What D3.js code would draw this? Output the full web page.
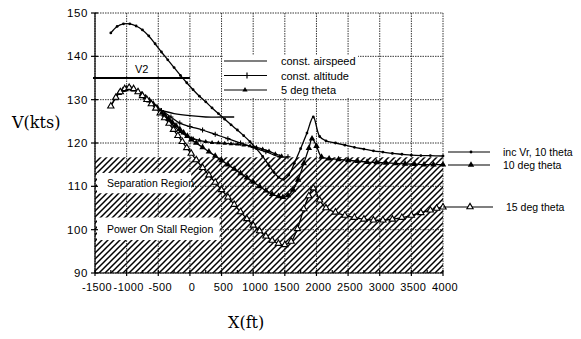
<!DOCTYPE html>
<html>
<head>
<meta charset="utf-8">
<script src="https://cdn.jsdelivr.net/npm/d3@7"></script>
<style>
  body { margin: 0; background: #fff; }
  text { font-family: 'Liberation Sans', Arial, sans-serif; fill: #000; }
</style>
</head>
<body>
<svg id="chart" width="581" height="339"></svg>
<script>
// axis ticks
const xTicks = [-1500, -1000, -500, 0, 500, 1000, 1500, 2000, 2500, 3000, 3500, 4000]
const yTicks = [90, 100, 110, 120, 130, 140, 150]

// inc Vr, 10 theta (small dots)
const incVrX = [-1250, -1150, -1050, -950, -850, -750, -650, -550, -450, -350, -250, -150, -50, 50, 150, 250, 350, 450, 550, 650, 750, 850, 950, 1050, 1150, 1250, 1330, 1400, 1480, 1560, 1650, 1750, 1850, 1950, 2050, 2150, 2300, 2450, 2600, 2750, 2900, 3050, 3200, 3350, 3500, 3650, 3800, 4000]
const incVrV = [145.4, 146.9, 147.5, 147.5, 147, 146.1, 144.7, 142.9, 141, 139.2, 137.4, 135.6, 133.9, 132.3, 130.8, 129.5, 128.1, 126.8, 125.5, 124.2, 123, 121.7, 120.3, 118.7, 116.9, 114.8, 113.2, 112.1, 111.6, 112.6, 115.3, 118.7, 122.3, 126, 121.5, 120.5, 120, 119.5, 119, 118.6, 118.2, 117.9, 117.6, 117.4, 117.2, 117.1, 117.1, 117]

// 10 deg theta (filled triangles)
const theta10X = [-1250, -1180, -1120, -1060, -1000, -940, -880, -820, -760, -700, -640, -580, -520, -460, -400, -340, -280, -220, -160, -100, -40, 20, 100, 200, 300, 400, 500, 600, 700, 800, 900, 1000, 1100, 1200, 1300, 1400, 1470, 1550, 1630, 1710, 1800, 1880, 1930, 2000, 2080, 2200, 2350, 2500, 2650, 2800, 2950, 3100, 3250, 3400, 3550, 3700, 3850, 4000]
const theta10V = [128.5, 130.3, 131.5, 132.2, 132.6, 132.6, 132.3, 131.8, 131.2, 130.5, 129.8, 129, 128.2, 127.3, 126.5, 125.6, 124.8, 124, 123.2, 122.4, 121.6, 120.8, 120, 119, 118, 117, 116, 115, 114, 113, 112, 111, 110, 109, 108.2, 107.7, 107.5, 107.9, 109.2, 111.5, 115.3, 118.8, 121, 119.3, 116.8, 116.4, 116.2, 116, 115.8, 115.6, 115.5, 115.4, 115.3, 115.2, 115.1, 115, 115, 115]

// 15 deg theta (open triangles)
const theta15X = [-1250, -1170, -1100, -1030, -960, -890, -820, -750, -680, -610, -540, -470, -400, -330, -260, -190, -120, -50, 20, 100, 200, 300, 400, 500, 600, 700, 800, 900, 1000, 1100, 1200, 1300, 1400, 1500, 1600, 1700, 1800, 1880, 1950, 2050, 2150, 2300, 2450, 2600, 2750, 2900, 3050, 3200, 3350, 3500, 3650, 3800, 3900, 4000]
const theta15V = [128.5, 130.5, 131.8, 132.5, 132.8, 132.5, 131.8, 130.9, 130, 129, 128, 126.9, 125.8, 124.5, 123.1, 121.7, 120.3, 118.9, 117.6, 116.1, 114.3, 112.6, 110.9, 109.2, 107.5, 105.8, 104.1, 102.5, 101, 99.7, 98.5, 97.5, 96.8, 96.5, 97.3, 100.2, 104.8, 107.8, 109.6, 106.8, 105, 104, 103.3, 102.8, 102.4, 102.2, 102.2, 102.4, 102.8, 103.3, 103.9, 104.5, 104.9, 105.2]

// const. airspeed (plain line)
const airspeedX = [-450, -250, 0, 250, 500, 700]
const airspeedV = [127.5, 126.8, 126.3, 126, 126, 126]

// const. altitude (+ markers)
const altitudeX = [-450, -300, -160, 0, 200, 400, 600, 800, 1000, 1200, 1420, 1550]
const altitudeV = [127.5, 126, 124.6, 123.8, 123, 122, 121, 120, 119, 118, 116.8, 116.8]

// 5 deg theta (small triangles)
const theta5X = [-450, -350, -250, -150, -50, 50, 150, 250, 350, 450, 550, 650, 750, 850, 950, 1050, 1150, 1250, 1350, 1450]
const theta5V = [127, 125.4, 123.9, 122.6, 121.6, 121, 120.6, 120.3, 120.1, 120, 119.9, 119.8, 119.7, 119.5, 119.3, 119, 118.6, 118.1, 117.5, 117]

// annotations
const v2Speed = 135
const v2Range = [-1500, 0]
const stallZone = [90, 116.7]
const regionNames = ['Separation Region', 'Power On Stall Region']
const regionBands = [[108.4, 113.1], [97.6, 102.8]]
const regionRight = [20, 470]

const svg = d3.select('#chart')
const x = d3.scaleLinear().domain([-1500, 4000]).range([95, 443])
const y = d3.scaleLinear().domain([90, 150]).range([273, 13])

// hatch pattern
const defs = svg.append('defs')
const pat = defs.append('pattern')
	.attr('id', 'hatch')
	.attr('patternUnits', 'userSpaceOnUse')
	.attr('width', 6)
	.attr('height', 6)
pat.append('path')
	.attr('d', 'M-1,1 l2,-2 M0,6 l6,-6 M5,7 l2,-2')
	.attr('stroke', '#000')
	.attr('stroke-width', 1.5)

// stall zone
svg.append('rect')
	.attr('x', x(-1500))
	.attr('y', y(stallZone[1]))
	.attr('width', x(4000) - x(-1500))
	.attr('height', y(stallZone[0]) - y(stallZone[1]))
	.attr('fill', 'url(#hatch)')

// grid
const grid = svg.append('g')
	.attr('stroke', '#222')
	.attr('stroke-width', 0.9)
	.attr('stroke-dasharray', '1.5,1')
grid.selectAll('.vx')
	.data(xTicks)
	.enter()
	.append('line')
	.attr('x1', (d) => x(d))
	.attr('x2', (d) => x(d))
	.attr('y1', y(150))
	.attr('y2', y(90))
grid.selectAll('.hy')
	.data(yTicks)
	.enter()
	.append('line')
	.attr('x1', x(-1500))
	.attr('x2', x(4000))
	.attr('y1', (d) => y(d))
	.attr('y2', (d) => y(d))

// white label boxes in stall zone
regionNames.forEach((name, i) => {
	const band = regionBands[i]
	svg.append('rect')
		.attr('x', x(-1500) + 2)
		.attr('y', y(band[1]))
		.attr('width', x(regionRight[i]) - x(-1500) - 2)
		.attr('height', y(band[0]) - y(band[1]))
		.attr('fill', '#fff')
	svg.append('text')
		.attr('x', x(-1500) + 12)
		.attr('y', (y(band[0]) + y(band[1])) / 2 + 4)
		.attr('font-size', 10.5)
		.text(name)
})

// legend box
const legendNames = ['const.  airspeed', 'const.  altitude', '5 deg theta']
const lg = svg.append('g')
lg.append('rect')
	.attr('x', 223).attr('y', 55).attr('width', 135).attr('height', 43)
	.attr('fill', '#fff')
legendNames.forEach((name, i) => {
	const ly = 61 + i * 14.5
	lg.append('line')
		.attr('x1', 224).attr('x2', 267).attr('y1', ly).attr('y2', ly)
		.attr('stroke', '#000').attr('stroke-width', 1.2)
	lg.append('text')
		.attr('x', 281).attr('y', ly + 4)
		.attr('font-size', 11)
		.text(name)
})
lg.append('path')
	.attr('d', 'M244,' + (61 + 14.5) + ' h6 M247,' + (61 + 14.5 - 3) + ' v6')
	.attr('stroke', '#000').attr('stroke-width', 1.2)
lg.append('path')
	.attr('d', d3.symbol(d3.symbolTriangle, 12)())
	.attr('transform', 'translate(245,' + (61 + 29) + ')')

// axes
const axis = svg.append('g').attr('stroke', '#000').attr('stroke-width', 1.2)
axis.append('line')
	.attr('x1', x(-1500)).attr('x2', x(-1500)).attr('y1', y(150)).attr('y2', y(90))
axis.append('line')
	.attr('x1', x(-1500)).attr('x2', x(4000)).attr('y1', y(90)).attr('y2', y(90))
axis.selectAll('.yt')
	.data(yTicks)
	.enter()
	.append('line')
	.attr('x1', x(-1500) - 4).attr('x2', x(-1500) + 3)
	.attr('y1', (d) => y(d)).attr('y2', (d) => y(d))
axis.selectAll('.xt')
	.data(d3.range(-1500, 4001, 250))
	.enter()
	.append('line')
	.attr('x1', (d) => x(d)).attr('x2', (d) => x(d))
	.attr('y1', y(90) - 3).attr('y2', (d) => y(90) + (d % 500 === 0 ? 3 : 0))

svg.selectAll('.ylab')
	.data(yTicks)
	.enter()
	.append('text')
	.attr('x', 88)
	.attr('y', (d) => y(d) + 4)
	.attr('text-anchor', 'end')
	.attr('font-size', 11.5)
	.attr('letter-spacing', 0.6)
	.text((d) => d)
svg.selectAll('.xlab')
	.data(xTicks)
	.enter()
	.append('text')
	.attr('x', (d) => x(d) + 2)
	.attr('y', 291)
	.attr('text-anchor', 'middle')
	.attr('font-size', 11)
	.attr('letter-spacing', 0.4)
	.text((d) => d)

svg.append('text')
	.attr('x', 12).attr('y', 128)
	.style('font-family', "'DejaVu Serif', serif")
	.attr('font-size', 16)
	.text('V(kts)')
svg.append('text')
	.attr('x', 228).attr('y', 328)
	.style('font-family', "'DejaVu Serif', serif")
	.attr('font-size', 16)
	.text('X(ft)')

// V2 line
svg.append('line')
	.attr('x1', x(v2Range[0]) - 2).attr('x2', x(v2Range[1]))
	.attr('y1', y(v2Speed)).attr('y2', y(v2Speed))
	.attr('stroke', '#000').attr('stroke-width', 2.2)
svg.append('text')
	.attr('x', 135).attr('y', y(v2Speed) - 5)
	.attr('font-size', 11)
	.text('V2')

// curves
const line = d3.line()
	.x((d) => x(d[0]))
	.y((d) => y(d[1]))
	.curve(d3.curveCatmullRom.alpha(0.5))

const zip = (xs, vs) => xs.map((d, i) => [d, vs[i]])

const series = [
	{ pts: zip(incVrX, incVrV), marker: 'dot' },
	{ pts: zip(theta10X, theta10V), marker: 'tri' },
	{ pts: zip(theta15X, theta15V), marker: 'otri' },
	{ pts: zip(airspeedX, airspeedV), marker: 'none' },
	{ pts: zip(altitudeX, altitudeV), marker: 'plus' },
	{ pts: zip(theta5X, theta5V), marker: 'stri' },
]

const drawMarker = (g, marker, px, py) => {
	if (marker === 'dot') {
		g.append('circle').attr('cx', px).attr('cy', py).attr('r', 1.4).attr('fill', '#000')
	} else if (marker === 'tri') {
		g.append('path').attr('d', d3.symbol(d3.symbolTriangle, 18)()).attr('transform', `translate(${px},${py})`).attr('fill', '#000')
	} else if (marker === 'otri') {
		g.append('path').attr('d', d3.symbol(d3.symbolTriangle, 17)()).attr('transform', `translate(${px},${py})`).attr('fill', '#fff').attr('stroke', '#000').attr('stroke-width', 1.1)
	} else if (marker === 'stri') {
		g.append('path').attr('d', d3.symbol(d3.symbolTriangle, 9)()).attr('transform', `translate(${px},${py})`).attr('fill', '#000')
	} else if (marker === 'plus') {
		g.append('path').attr('d', `M${px - 2.5},${py} h5 M${px},${py - 2.5} v5`).attr('stroke', '#000').attr('stroke-width', 1.1)
	}
}

series.forEach((s) => {
	const g = svg.append('g')
	g.append('path')
		.attr('d', line(s.pts))
		.attr('fill', 'none')
		.attr('stroke', '#000')
		.attr('stroke-width', 1.3)
	s.pts.forEach((p) => drawMarker(g, s.marker, x(p[0]), y(p[1])))
})

// right hand labels
const sideNames = ['inc Vr, 10 theta', '10 deg theta', '15 deg theta']
const sideMarkers = ['dot', 'tri', 'otri']
const sideY = [152, 165, 207]
const sideStart = [448, 448, 443]
const sideEnd = [490, 490, 493]
const sideText = [503, 503, 506]
sideNames.forEach((name, i) => {
	const g = svg.append('g')
	g.append('line')
		.attr('x1', sideStart[i]).attr('x2', sideEnd[i])
		.attr('y1', sideY[i]).attr('y2', sideY[i])
		.attr('stroke', '#000').attr('stroke-width', 1.2)
	drawMarker(g, sideMarkers[i], (sideStart[i] + sideEnd[i]) / 2 + 2, sideY[i])
	g.append('text')
		.attr('x', sideText[i]).attr('y', sideY[i] + 4)
		.attr('font-size', 10.5)
		.text(name)
})
</script>
</body>
</html>
